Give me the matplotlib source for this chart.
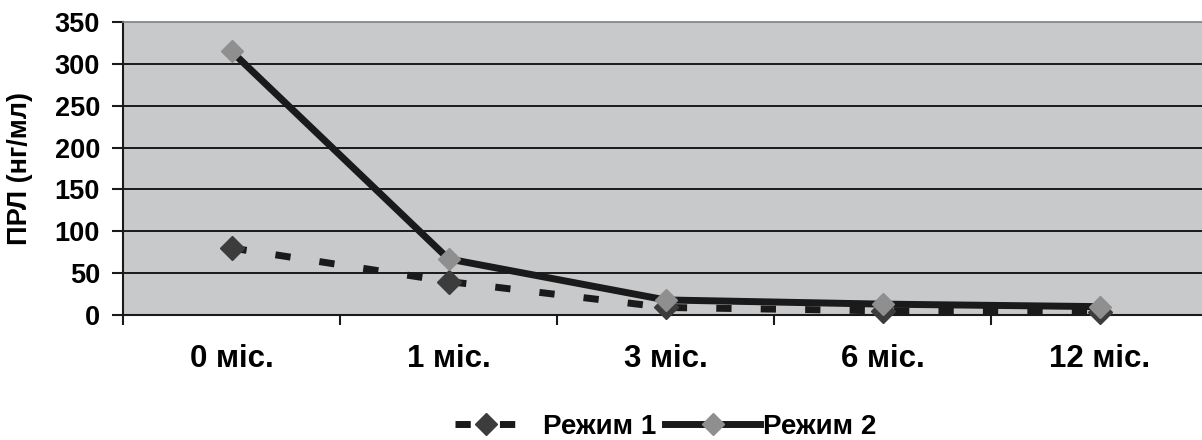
import matplotlib
matplotlib.use("Agg")
import matplotlib.pyplot as plt
from matplotlib.lines import Line2D

plt.rcParams['font.family'] = ['Liberation Sans', 'DejaVu Sans']
plt.rcParams['font.weight'] = 'bold'
plt.rcParams['lines.scale_dashes'] = False

categories = ["0 міс.", "1 міс.", "3 міс.", "6 міс.", "12 міс."]
rezhym1 = [80, 40, 9, 5, 4]
rezhym2 = [315, 67, 18, 13, 10]
series_names = ["Режим 1", "Режим 2"]
yticks = [0, 50, 100, 150, 200, 250, 300, 350]

W, H = 1202, 440
fig = plt.figure(figsize=(W / 100, H / 100), dpi=100)
left, right, top, bottom = 123, 1208, 22, 315
ax = fig.add_axes([left / W, (H - bottom) / H, (right - left) / W, (bottom - top) / H])
ax.set_facecolor('#c8c9cb')

x = list(range(len(categories)))
ax.set_xlim(-0.5, len(categories) - 0.5)
ax.set_ylim(0, 350)

for v in yticks[1:-1]:
    ax.axhline(v, color='#1a1a1a', lw=1.4, zorder=1)

dash = (11, 21)
ax.plot(x, rezhym1, color='#1a1a1a', lw=5, dashes=dash, solid_capstyle='butt',
        dash_capstyle='butt', marker='D', markersize=12, markerfacecolor='#3c3c3c',
        markeredgecolor='#3c3c3c', zorder=3, label=series_names[0], clip_on=False)
ax.plot(x, rezhym2, color='#1a1a1a', lw=5, solid_capstyle='butt',
        marker='D', markersize=11, markerfacecolor='#8f8f8f',
        markeredgecolor='#8f8f8f', zorder=4, label=series_names[1], clip_on=False)

for s in ['left', 'bottom']:
    ax.spines[s].set_color('#1a1a1a')
    ax.spines[s].set_linewidth(1.5)
ax.spines['top'].set_color('#808080')
ax.spines['top'].set_linewidth(1.2)
ax.spines['right'].set_visible(False)

ax.set_yticks(yticks)
ax.set_yticklabels([str(v) for v in yticks])
ax.tick_params(axis='y', direction='out', length=8, width=1.5, pad=8.5, labelsize=19.5,
               color='#1a1a1a')

ax.set_xticks([i - 0.5 for i in range(len(categories) + 1)])
ax.set_xticklabels([])
ax.set_xticks(x, minor=True)
ax.set_xticklabels(categories, minor=True)
ax.tick_params(axis='x', which='major', direction='out', length=7, width=1.5, color='#1a1a1a')
ax.tick_params(axis='x', which='minor', length=0, pad=21, labelsize=22.5)

ax.set_ylabel("ПРЛ (нг/мл)", fontsize=19.5, fontweight='bold')
ax.yaxis.set_label_coords(-(123 - 33) / 1085, 0.5)

fs = 20
fpx = fs * 100 / 72
h1 = Line2D([], [], color='#1a1a1a', lw=5, dashes=dash, marker='D', markersize=11,
            markerfacecolor='#3c3c3c', markeredgecolor='#3c3c3c')
h2 = Line2D([], [], color='#1a1a1a', lw=5, marker='D', markersize=11,
            markerfacecolor='#8f8f8f', markeredgecolor='#8f8f8f')
leg1 = fig.legend([h1], [series_names[0]], loc='center left',
                  bbox_to_anchor=(455 / W, 1 - 427 / H), frameon=False, fontsize=fs,
                  handlelength=62 / fpx, handletextpad=26 / fpx, borderpad=0,
                  borderaxespad=0)
leg2 = fig.legend([h2], [series_names[1]], loc='center left',
                  bbox_to_anchor=(665 / W, 1 - 427 / H), frameon=False, fontsize=fs,
                  handlelength=95 / fpx, handletextpad=3 / fpx, borderpad=0,
                  borderaxespad=0)

fig.savefig("out.png", dpi=100)
